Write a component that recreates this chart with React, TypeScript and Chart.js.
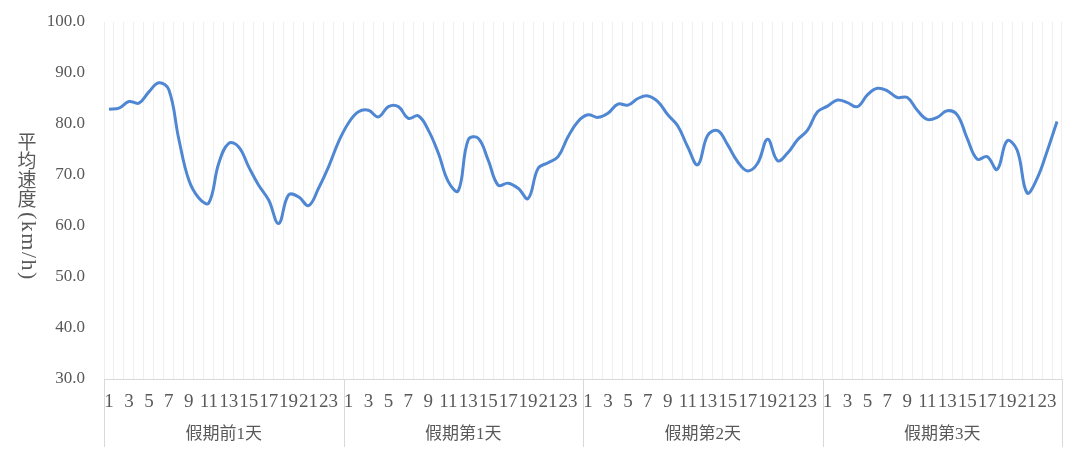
import React, { useEffect, useRef } from "react";
import { Chart, registerables } from "chart.js";

Chart.register(...registerables);

const groupLabels = ["假期前1天", "假期第1天", "假期第2天", "假期第3天"];
const hours = [1, 2, 3, 4, 5, 6, 7, 8, 9, 10, 11, 12, 13, 14, 15, 16, 17, 18, 19, 20, 21, 22, 23, 24];

const dayBefore = [82.9, 83.1, 84.4, 84.1, 86.3, 88.1, 86.7, 77.0, 69.0, 65.5, 64.5, 72.3, 76.2, 75.5, 71.6, 68.0, 65.1, 60.5, 66.1, 65.7, 64.0, 67.4, 71.6, 76.5];
const day1 = [80.2, 82.4, 82.7, 81.4, 83.4, 83.4, 81.1, 81.6, 78.8, 74.3, 68.7, 66.9, 76.9, 77.2, 72.9, 68.0, 68.4, 67.4, 65.4, 71.3, 72.4, 73.6, 77.5, 80.5];
const day2 = [81.8, 81.3, 82.1, 83.9, 83.7, 85.0, 85.5, 84.4, 81.8, 79.6, 75.5, 72.0, 77.8, 78.7, 75.9, 72.6, 70.8, 72.3, 77.0, 72.8, 74.3, 76.9, 78.8, 82.4];
const day3 = [83.5, 84.7, 84.2, 83.4, 85.7, 87.0, 86.5, 85.2, 85.2, 82.7, 80.9, 81.3, 82.6, 81.8, 77.2, 73.1, 73.6, 71.1, 76.7, 74.9, 66.5, 69.3, 74.6, 80.5];

const yTicksMin = 30;
const yTicksMax = 100;
const yStep = 10;
const yTitleStacked = ["平", "均", "速", "度"];
const yTitleRotated = "(km/h)";

const TEXT = "#595959";
const SERIF = '"Liberation Serif", "Noto Sans CJK SC", serif';

export default function App() {
  const ref = useRef<HTMLCanvasElement | null>(null);

  useEffect(() => {
    const canvas = ref.current;
    if (!canvas) return;
    const labels: string[] = [];
    groupLabels.forEach(() => hours.forEach((h) => labels.push(String(h))));
    const values = [...dayBefore, ...day1, ...day2, ...day3];

    const decor = {
      id: "decor",
      afterDraw(chart: any) {
        const ctx = chart.ctx;
        const x = chart.scales.x;
        const area = chart.chartArea;
        const n = hours.length;
        ctx.save();
        // group separators
        ctx.strokeStyle = "#d9d9d9";
        ctx.lineWidth = 1;
        const half = (x.getPixelForValue(1) - x.getPixelForValue(0)) / 2;
        for (let g = 0; g <= groupLabels.length; g++) {
          const px = Math.round(x.getPixelForValue(g * n) - half) + 0.5;
          ctx.beginPath();
          ctx.moveTo(px, area.bottom);
          ctx.lineTo(px, 447);
          ctx.stroke();
        }
        // group labels
        ctx.fillStyle = TEXT;
        ctx.font = "17px " + SERIF;
        ctx.textAlign = "center";
        ctx.textBaseline = "middle";
        groupLabels.forEach((lab, g) => {
          const a = x.getPixelForValue(g * n) - half;
          const b = x.getPixelForValue(g * n + n - 1) + half;
          ctx.fillText(lab, (a + b) / 2, 435);
        });
        // y title
        ctx.font = "19px " + SERIF;
        ctx.fillStyle = TEXT;
        const cx = 27;
        yTitleStacked.forEach((c, i) => {
          ctx.fillText(c, cx, 144 + i * 19);
        });
        ctx.translate(cx + 1, 212);
        ctx.rotate(Math.PI / 2);
        ctx.textAlign = "left";
        ctx.font = "22px " + SERIF;
        try {
          (ctx as any).letterSpacing = "1.5px";
        } catch (e) {}
        ctx.fillText(yTitleRotated, 0, 0);
        ctx.restore();
      },
    };

    const chart = new Chart(canvas, {
      type: "line",
      data: {
        labels,
        datasets: [
          {
            data: values,
            borderColor: "#4f87d3",
            borderWidth: 3,
            pointRadius: 0,
            tension: 0.4,
            fill: false,
          },
        ],
      },
      options: {
        animation: false,
        responsive: false,
        layout: { padding: { top: 22, right: 18, left: 0, bottom: 0 } },
        plugins: { legend: { display: false }, tooltip: { enabled: false } },
        scales: {
          x: {
            type: "category",
            offset: true,
            grid: { offset: true, color: "#efefef", drawTicks: false, lineWidth: 1 },
            border: { display: true, color: "#d9d9d9" },
            ticks: {
              autoSkip: false,
              maxRotation: 0,
              minRotation: 0,
              padding: 12,
              color: TEXT,
              font: { family: SERIF, size: 19 },
              callback: (_v: any, i: number) => (i % 2 === 0 ? labels[i] : ""),
            },
            afterFit: (s: any) => {
              s.height = 455 - 379;
              s.paddingLeft = 0;
              s.paddingRight = 0;
            },
          },
          y: {
            min: yTicksMin,
            max: yTicksMax,
            grid: { display: false, drawTicks: false },
            border: { display: false },
            ticks: {
              stepSize: yStep,
              padding: 19,
              color: TEXT,
              font: { family: SERIF, size: 17 },
              callback: (v: any) => Number(v).toFixed(1),
            },
            afterFit: (s: any) => {
              s.width = 104;
              s.paddingTop = 0;
              s.paddingBottom = 0;
            },
          },
        },
      },
      plugins: [decor],
    });
    return () => chart.destroy();
  }, []);

  return (
    <div style={{ position: "fixed", left: 0, top: 0, width: 1080, height: 455, background: "#fff" }}>
      <canvas ref={ref} width={1080} height={455} style={{ display: "block" }} />
    </div>
  );
}
